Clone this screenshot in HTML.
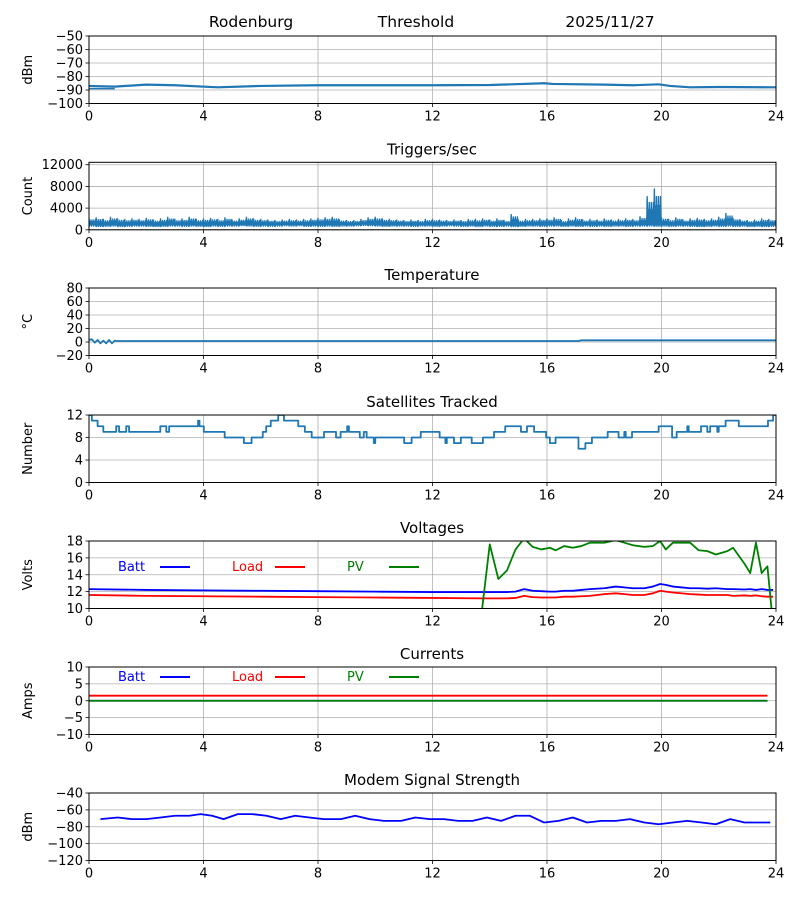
<!DOCTYPE html>
<html><head><meta charset="utf-8">
<style>
html,body{margin:0;padding:0;background:#fff;}
svg{display:block;font-family:"DejaVu Sans","Liberation Sans",sans-serif;}
</style></head>
<body>
<svg id="chart" width="800" height="900" viewBox="0 0 800 900" xmlns="http://www.w3.org/2000/svg">
<text x="251" y="27" font-size="15.5" text-anchor="middle">Rodenburg</text>
<text x="416" y="27" font-size="15.5" text-anchor="middle">Threshold</text>
<text x="610" y="27" font-size="15.5" text-anchor="middle">2025/11/27</text>
</svg>
<script>
const xTicks=[0,4,8,12,16,20,24];
// RSSI
const rssiHours=[0,0.9,2,3,4.5,6,8,10,12,14,15.9,16.2,18,19,19.9,20.3,21,22,24];
const rssiVals=[-87,-87.5,-86,-86.5,-88,-87,-86.5,-86.5,-86.5,-86.3,-85,-85.5,-86,-86.5,-85.8,-87,-88,-87.8,-88];
const rssiTicks=[-50,-60,-70,-80,-90,-100];
// Triggers: low/high envelope every 0.25 h
const trigLow=[700,600,650,700,600,650,700,700,650,600,650,700,700,650,700,650,600,700,650,700,700,750,700,650,700,650,700,750,700,750,650,700,650,700,650,700,700,750,800,750,700,650,700,700,700,650,700,700,650,700,750,700,650,700,600,700,650,650,700,600,650,700,700,650,700,700,650,700,650,700,650,700,650,700,700,650,700,700,700,650,700,650,700,700,650,600,650,700,650,700,650,700,600,650,600,650];
const trigHigh=[2100,2200,1900,2300,2000,1900,2000,1900,2100,1800,2000,2300,1900,2000,2300,1900,2000,2100,1900,2200,1800,2000,2300,2000,1900,1800,1700,1800,1900,1800,1900,2000,2100,2200,2300,1800,1700,1700,1900,2200,2300,2000,1900,1800,1700,1800,1700,1900,1900,1800,1700,1800,1700,1900,1900,2000,1800,2000,1700,2800,1800,1900,1900,2000,2000,2200,1700,2000,2200,1800,1900,1800,2000,1800,1900,2000,1900,2400,6100,7500,2200,1900,2200,1800,2000,2100,1900,2000,2300,3000,2100,1800,1700,1800,2000,1900];
const trigTicks=[0,4000,8000,12000];
// Temperature
const tempHours=[0,0.1,0.2,0.3,0.4,0.5,0.6,0.7,0.8,0.9,0.95,4,8,12,17.1,17.2,20,24];
const tempVals=[3,4,-1,3,-2,2,-2,3,-2,2,1.5,1.5,1.5,1.5,1.5,2.5,2.5,2.5];
const tempTicks=[-20,0,20,40,60,80];
// Satellites (step changes)
const satHours=[0,0.1,0.3,0.5,0.95,1.05,1.3,1.4,2.49,2.7,2.8,3.81,3.86,4.01,4.74,5.41,5.68,6.07,6.19,6.35,6.61,6.81,7.31,7.54,7.78,8.21,8.63,8.79,9.02,9.08,9.46,9.6,9.7,9.95,10.0,11.01,11.27,11.59,12.25,12.45,12.5,12.75,12.99,13.37,13.76,14.15,14.54,15.09,15.3,15.55,15.97,16.1,16.3,17.1,17.34,17.57,18.12,18.5,18.7,18.75,18.97,19.9,20.37,20.53,20.9,20.95,21.38,21.6,21.7,21.95,22.0,22.24,22.7,23.72,23.9];
const satVals=[12,11,10,9,10,9,10,9,10,9,10,11,10,9,8,7,8,9,10,11,12,11,10,9,8,9,8,9,10,9,8,9,8,7,8,7,8,9,8,7,8,7,8,7,8,9,10,9,10,9,8,7,8,6,7,8,9,8,9,8,9,10,8,9,10,9,10,9,10,9,10,11,10,11,12];
const satTicks=[0,4,8,12];
// Voltages
const voltHours=[0,2,4,6,8,10,12,13.7,14.0,14.3,14.6,14.9,15.2,15.5,15.8,16.1,16.3,16.6,16.9,17.2,17.5,18.0,18.4,18.7,19.0,19.4,19.7,19.95,20.15,20.4,21.0,21.3,21.6,21.9,22.3,22.5,22.9,23.1,23.3,23.5,23.7,23.9];
const battVals=[12.3,12.2,12.15,12.1,12.05,12.0,11.95,11.95,11.95,11.95,11.95,12.0,12.3,12.1,12.05,12.0,12.0,12.1,12.1,12.2,12.3,12.4,12.6,12.5,12.4,12.4,12.6,12.9,12.8,12.6,12.4,12.4,12.35,12.4,12.3,12.3,12.25,12.3,12.2,12.3,12.2,12.2];
const loadVals=[11.6,11.5,11.45,11.4,11.35,11.3,11.25,11.2,11.2,11.2,11.2,11.25,11.5,11.35,11.3,11.3,11.3,11.4,11.4,11.45,11.5,11.7,11.8,11.7,11.6,11.6,11.8,12.1,12.0,11.9,11.7,11.65,11.6,11.6,11.6,11.5,11.55,11.5,11.55,11.45,11.4,11.4];
const pvVals=[0,0,0,0,0,0,0,9,17.6,13.5,14.5,17,18.3,17.3,17,17.2,16.9,17.4,17.2,17.4,17.8,17.8,18.1,17.8,17.5,17.3,17.4,18,17,17.8,17.8,16.9,16.8,16.4,16.8,17.2,15.3,14.2,17.8,14.2,15,8];
const voltTicks=[10,12,14,16,18];
// Currents
const ampHours=[0,4,8,12,16,20,23.7];
const ampBatt=[0,0,0,0,0,0,0];
const ampLoad=[1.5,1.5,1.5,1.5,1.5,1.5,1.5];
const ampPv=[0,0,0,0,0,0,0];
const ampTicks=[-10,-5,0,5,10];
// Modem
const modemHours=[0.4,1,1.5,2,2.5,3,3.5,3.9,4.3,4.7,5.2,5.7,6.2,6.7,7.2,7.7,8.2,8.8,9.3,9.8,10.3,10.9,11.4,11.9,12.4,12.9,13.4,13.9,14.4,14.9,15.4,15.9,16.4,16.9,17.4,17.9,18.4,18.9,19.4,19.9,20.4,20.9,21.4,21.9,22.4,22.9,23.4,23.8];
const modemVals=[-71,-69,-71,-71,-69,-67,-67,-65,-67,-71,-65,-65,-67,-71,-67,-69,-71,-71,-67,-71,-73,-73,-69,-71,-71,-73,-73,-69,-73,-67,-67,-75,-73,-69,-75,-73,-73,-71,-75,-77,-75,-73,-75,-77,-71,-75,-75,-75];
const modemTicks=[-120,-100,-80,-60,-40];

const NS='http://www.w3.org/2000/svg';
const svg=document.getElementById('chart');
const X0=89,X1=776,H=67.5;
function xs(h){return X0+(X1-X0)*h/24;}
function mk(tag,attrs,parent){const e=document.createElementNS(NS,tag);for(const k in attrs)e.setAttribute(k,attrs[k]);(parent||svg).appendChild(e);return e;}
function fmt(v){return String(v).replace('-','\u2212');}
let clipN=0;
function panel(name,top,ymin,ymax,ticks,title,ylabel){
  const g=mk('g',{});
  
  
  const ys=v=>top+H-(v-ymin)/(ymax-ymin)*H;
  xTicks.forEach(t=>{const l=mk('line',{x1:xs(t),x2:xs(t),y1:top,y2:top+H,stroke:'#b0b0b0','stroke-width':0.8},g);
    });
  ticks.forEach(t=>{const l=mk('line',{x1:X0,x2:X1,y1:ys(t),y2:ys(t),stroke:'#b0b0b0','stroke-width':0.8},g);
    });
  xTicks.forEach(t=>{mk('line',{x1:xs(t),x2:xs(t),y1:top+H,y2:top+H+3.5,stroke:'#000','stroke-width':0.8},g);
    const tx=mk('text',{x:xs(t),y:top+H+17,'font-size':13,'text-anchor':'middle'},g);tx.textContent=t;
    });
  ticks.forEach(t=>{mk('line',{x1:X0-3.5,x2:X0,y1:ys(t),y2:ys(t),stroke:'#000','stroke-width':0.8},g);
    const tx=mk('text',{x:X0-6,y:ys(t)+4.5,'font-size':13,'text-anchor':'end'},g);tx.textContent=fmt(t);
    });
  const tt=mk('text',{x:432,y:top-8,'font-size':15,'text-anchor':'middle'},g);tt.textContent=title;
  
  const yl=mk('text',{x:0,y:0,'font-size':13,'text-anchor':'middle',transform:`translate(32,${top+H/2}) rotate(-90)`},g);yl.textContent=ylabel;
  
  const id='c'+(clipN++);
  const cp=mk('clipPath',{id:id},g);mk('rect',{x:X0,y:top,width:X1-X0,height:H},cp);
  const plot=mk('g',{'clip-path':`url(#${id})`},g);
  const fr=mk('rect',{x:X0,y:top,width:X1-X0,height:H,fill:'none',stroke:'#000','stroke-width':1},g);
  
  return {plot,ys,g,top};
}
function line(p,hours,vals,color,w,name,step){
  let d='';
  hours.forEach((h,i)=>{
    if(i===0)d+=`M${xs(h)},${p.ys(vals[i])}`;
    else if(step)d+=`L${xs(h)},${p.ys(vals[i-1])}L${xs(h)},${p.ys(vals[i])}`;
    else d+=`L${xs(h)},${p.ys(vals[i])}`;
  });
  if(step)d+=`L${xs(24)},${p.ys(vals[vals.length-1])}`;
  const e=mk('path',{d:d,fill:'none',stroke:color,'stroke-width':w,'stroke-linejoin':'round'},p.plot);
  
  
}
function legend(p,y){
  [['Batt','#0000ff',118,160],['Load','#ff0000',232,275],['PV','#008000',347,389]].forEach(([t,c,tx,lx])=>{
    const e=mk('text',{x:tx,y:y+5,'font-size':13,fill:c},p.g);e.textContent=t;
    
    
    mk('line',{x1:lx,x2:lx+30,y1:y+1,y2:y+1,stroke:c,'stroke-width':2},p.g);
  });
}
const C='#1f77b4';
// panel 1
let p=panel('rssi',36,-100,-50,rssiTicks,'','dBm');
line(p,rssiHours,rssiVals,C,2.2,'rssi-line');
line(p,[0,0.9],[-89,-89],C,1.5,'rssi-line-early');
// panel 2
p=panel('triggers',162.3,0,12450,trigTicks,'Triggers/sec','Count');
{const N=14;let hrs=[],vals=[];
 trigHigh.forEach((v,i)=>{const lo=trigLow[i];for(let k=0;k<N;k++){hrs.push((i+k/N)/4);
   let val;if(k%2)val=lo+(k%4===1?0:250);else val=(k===0?v:(k%4===0?(0.8*v+0.2*lo):(0.55*v+0.45*lo)));vals.push(val);}});
 line(p,hrs,vals,C,1.4,'triggers-line');}
// panel 3
p=panel('temperature',288,-20,80,tempTicks,'Temperature','\u00B0C');
line(p,tempHours,tempVals,C,1.8,'temperature-line');
// panel 4
p=panel('satellites',415,0,12,satTicks,'Satellites Tracked','Number');
line(p,satHours,satVals,C,1.8,'satellites-line',true);
// panel 5
p=panel('voltages',541,10,18,voltTicks,'Voltages','Volts');
line(p,voltHours,battVals,'#0000ff',1.8,'batt-voltage-line');
line(p,voltHours,loadVals,'#ff0000',1.8,'load-voltage-line');
line(p,voltHours,pvVals,'#008000',1.8,'pv-voltage-line');
legend(p,566);
// panel 6
p=panel('currents',667,-10,10,ampTicks,'Currents','Amps');
line(p,ampHours,ampBatt,'#0000ff',1.8,'batt-current-line');
line(p,ampHours,ampPv,'#008000',1.8,'pv-current-line');
line(p,ampHours,ampLoad,'#ff0000',1.8,'load-current-line');
legend(p,676);
// panel 7
p=panel('modem',793,-120,-40,modemTicks,'Modem Signal Strength','dBm');
line(p,modemHours,modemVals,'#0000ff',1.8,'modem-signal-line');
</script>
</body></html>
